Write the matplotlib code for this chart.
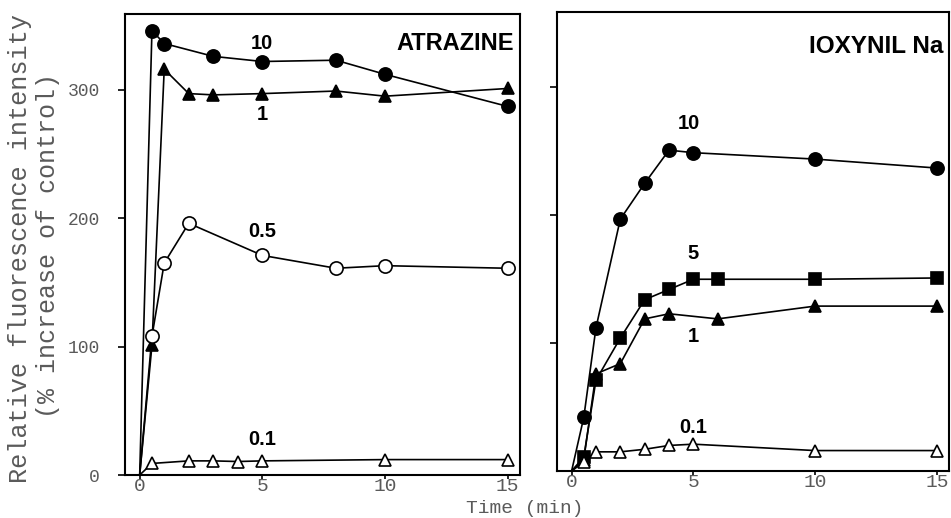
import matplotlib
matplotlib.use("Agg")
import matplotlib.pyplot as plt

# ATRAZINE panel
atr_t10 = [0, 0.5, 1, 3, 5, 8, 10, 15]
atr_v10 = [0, 346, 336, 326, 322, 323, 312, 287]
atr_t1 = [0, 0.5, 1, 2, 3, 5, 8, 10, 15]
atr_v1 = [0, 101, 316, 297, 296, 297, 299, 295, 301]
atr_t05 = [0, 0.5, 1, 2, 5, 8, 10, 15]
atr_v05 = [0, 108, 165, 196, 171, 161, 163, 161]
atr_t01 = [0, 0.5, 2, 3, 4, 5, 10, 15]
atr_v01 = [0, 9, 11, 11, 10.5, 11, 12, 12]

# IOXYNIL Na panel
iox_t10 = [0, 0.5, 1, 2, 3, 4, 5, 10, 15]
iox_v10 = [0, 42, 112, 197, 225, 251, 249, 244, 237]
iox_t5 = [0, 0.5, 1, 2, 3, 4, 5, 6, 10, 15]
iox_v5 = [0, 11, 71, 104, 134, 142, 150, 150, 150, 151]
iox_t1 = [0, 0.5, 1, 2, 3, 4, 6, 10, 15]
iox_v1 = [0, 9, 76, 84, 119, 123, 119, 129, 129]
iox_t01 = [0, 0.5, 1, 2, 3, 4, 5, 10, 15]
iox_v01 = [0, 7, 15, 15, 17, 20, 21, 16, 16]

xticks = [0, 5, 10, 15]
yticks = [0, 100, 200, 300]
mono = "Liberation Mono"
sans = "Liberation Sans"
grey = "#5a5a5a"

fig = plt.figure(figsize=(9.51, 5.18), dpi=100)
ax1 = fig.add_axes([0.1314, 0.083, 0.4154, 0.890])
ax2 = fig.add_axes([0.5857, 0.0907, 0.4122, 0.886])

lw = 1.2
def series(ax, t, v, marker, filled, ms):
    # first point (origin) is drawn as the line start only, no marker
    ax.plot(t, v, color="black", lw=lw, marker=marker, ms=ms,
            markerfacecolor="black" if filled else "white",
            markeredgecolor="black", markeredgewidth=1.2, clip_on=False,
            zorder=3, markevery=list(range(1, len(t))))

series(ax1, atr_t10, atr_v10, "o", True, 9.5)
series(ax1, atr_t1, atr_v1, "^", True, 8)
series(ax1, atr_t05, atr_v05, "o", False, 9.5)
series(ax1, atr_t01, atr_v01, "^", False, 8)

series(ax2, iox_t10, iox_v10, "o", True, 9.5)
series(ax2, iox_t5, iox_v5, "s", True, 8)
series(ax2, iox_t1, iox_v1, "^", True, 8)
series(ax2, iox_t01, iox_v01, "^", False, 8)

lab = dict(fontsize=14.5, fontweight="bold", family=sans, ha="center", va="center")
ax1.text(5, 336, "10", **lab)
ax1.text(5, 281, "1", **lab)
ax1.text(5, 190, "0.5", **lab)
ax1.text(5, 28, "0.1", **lab)
ax1.text(0.985, 0.935, "ATRAZINE", transform=ax1.transAxes, fontsize=17,
         fontweight="bold", family=sans, ha="right", va="center")

ax2.text(4.8, 272, "10", **lab)
ax2.text(5, 170, "5", **lab)
ax2.text(5, 105, "1", **lab)
ax2.text(5, 34, "0.1", **lab)
ax2.text(0.985, 0.925, "IOXYNIL Na", transform=ax2.transAxes, fontsize=17.5,
         fontweight="bold", family=sans, ha="right", va="center")

for ax in (ax1, ax2):
    ax.set_xlim(-0.6, 15.5)
    ax.set_ylim(0, 359)
    ax.set_xticks(xticks)
    ax.set_yticks(yticks)
    for s in ax.spines.values():
        s.set_linewidth(1.5)
    ax.tick_params(axis="x", direction="out", length=3, width=1.2, pad=-1,
                   labelsize=14, labelcolor=grey)
    ax.tick_params(axis="y", direction="out", length=5, width=1.2, pad=13,
                   labelsize=13, labelcolor=grey)
    for lbl in ax.get_xticklabels() + ax.get_yticklabels():
        lbl.set_family(mono)

ax2.tick_params(axis="y", labelleft=False)
ax2.set_yticks([100, 200, 300])

fig.text(0.021, 0.52, "Relative fluorescence intensity", rotation=90,
         family=mono, fontsize=18.2, color=grey, ha="center", va="center")
fig.text(0.050, 0.527, "(% increase of control)", rotation=90,
         family=mono, fontsize=18, color=grey, ha="center", va="center")
fig.text(0.552, 0.01, "Time (min)", family=mono, fontsize=14, color=grey,
         ha="center", va="baseline")

fig.savefig("out.png", dpi=100)
